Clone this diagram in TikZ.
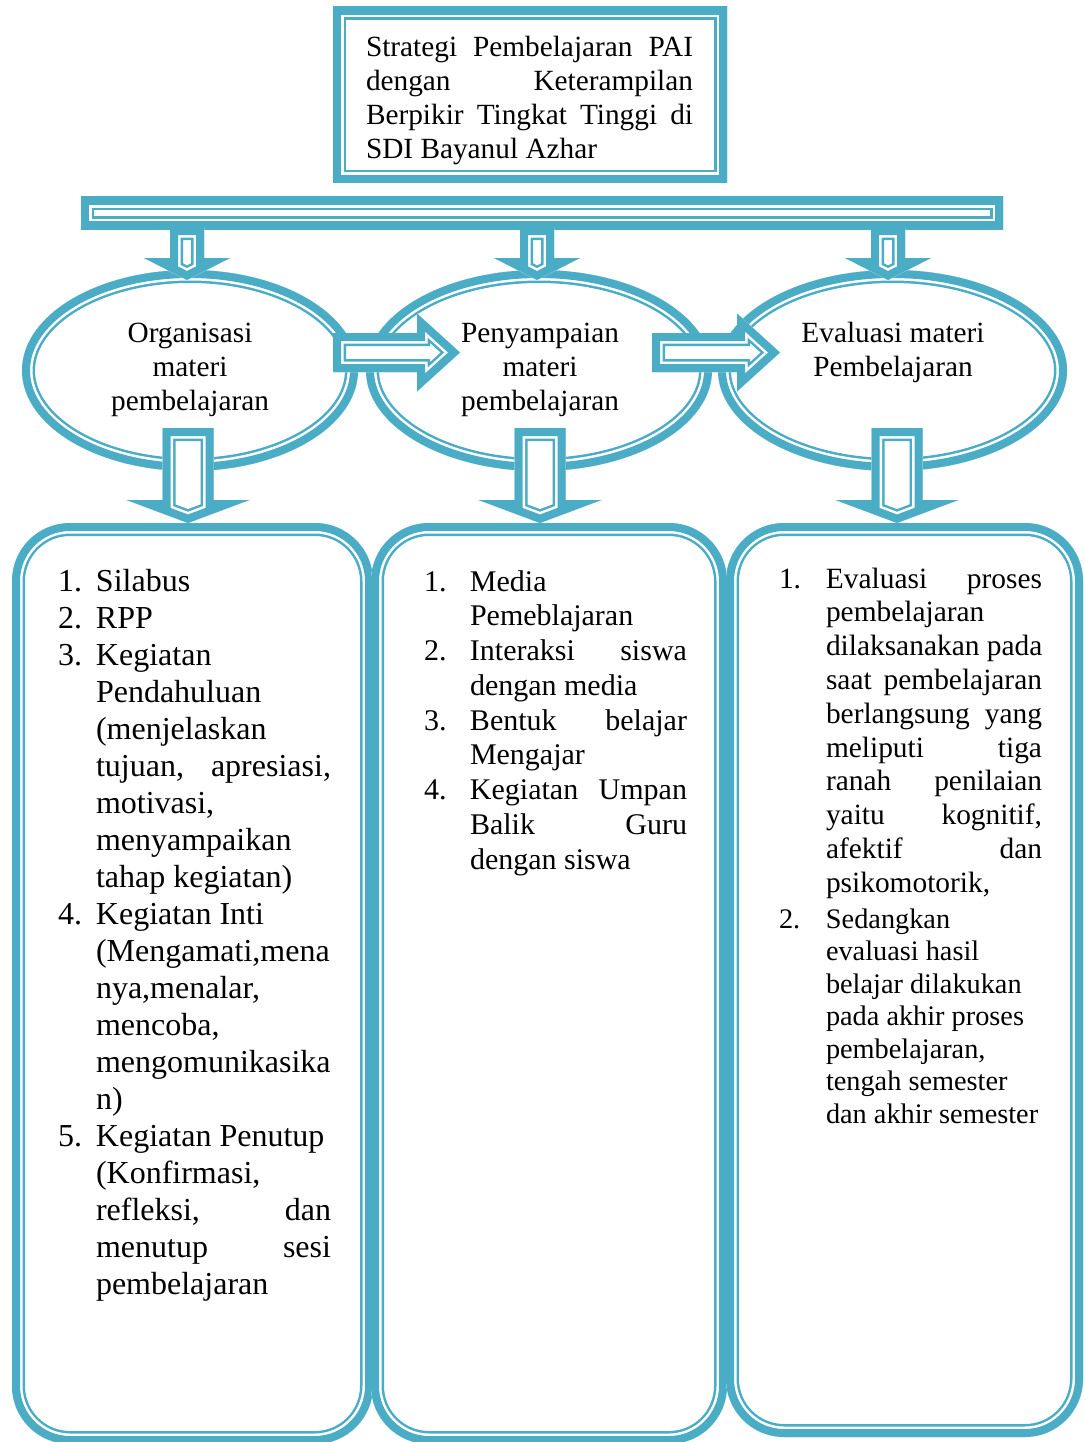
\documentclass[tikz,border=0pt]{standalone}
\usepackage{fontspec}
\setmainfont{Liberation Serif}
\definecolor{acc}{RGB}{75,172,198}
\newlength\numw
\newlength\txtw
\newcommand\Lrow[2]{\hbox{\hbox to\numw{#1\hfil}#2}}
\newcommand\Jrow[2]{\hbox{\hbox to\numw{#1\hfil}\hbox to\txtw{\spaceskip=.25em plus 1fil\relax #2}}}
\newcommand\Jline[1]{\hbox to\txtw{\spaceskip=.25em plus 1fil\relax #1}}
\newcommand\Nline[1]{\hbox{#1}}
\newcommand\Cline[1]{\hbox to\txtw{\hfil #1\hfil}}
\newcommand\ttshape[1]{\begin{scope}\fill[white] #1; \clip #1; \draw[bandA] #1; \draw[bandB] #1; \draw[bandC] #1; \end{scope}}
% down arrow: #1 cx, #2 shaft top, #3 head start, #4 tip, #5 shaft half width, #6 head half width
\newcommand\dnarrow[6]{\ttshape{(#1-#5,#2) -- (#1+#5,#2) -- (#1+#5,#3) -- (#1+#6,#3) -- (#1,#4) -- (#1-#6,#3) -- (#1-#5,#3) -- cycle}}
% right arrow: #1 cy, #2 shaft left, #3 head start, #4 tip, #5 shaft half height, #6 head half height
\newcommand\rtarrow[6]{\ttshape{(#2,#1-#5) -- (#3,#1-#5) -- (#3,#1-#6) -- (#4,#1) -- (#3,#1+#6) -- (#3,#1+#5) -- (#2,#1+#5) -- cycle}}
\begin{document}
\begin{tikzpicture}[x=1pt,y=-1pt,line join=miter,
  bandA/.style={draw=acc,line width=26pt},
  bandB/.style={draw=white,line width=21pt},
  bandC/.style={draw=acc,line width=16pt},
  txt/.style={inner sep=0pt,outer sep=0pt}]
\useasboundingbox (0,0) rectangle (1084,1442);
\fill[white] (0,0) rectangle (1084,1442);
% title box and bar
\ttshape{(333,7) rectangle (727,183)}
\ttshape{(81,197) rectangle (1003,229)}
% ellipses
\coordinate (e1) at (190,370.5);
\coordinate (e2) at (539,370.5);
\coordinate (e3) at (892.5,370.5);
\ttshape{(e1) ellipse [x radius=168pt, y radius=100.5pt]}
\ttshape{(e2) ellipse [x radius=173pt, y radius=100.5pt]}
\ttshape{(e3) ellipse [x radius=174.5pt, y radius=100.5pt]}
% arrows from bar
\dnarrow{187}{227}{258}{280}{17}{43}
\dnarrow{537}{227}{258}{280}{17}{43}
\dnarrow{888}{227}{258}{280}{17}{43}
% arrows between ellipses
\rtarrow{352.5}{333}{417}{460}{19.5}{39}
\rtarrow{352.5}{652}{737}{780}{19.5}{39}
% lower boxes
\ttshape{[rounded corners=58pt] (12,523) rectangle (373,1444)}
\ttshape{[rounded corners=58pt] (371,523) rectangle (727,1444)}
\ttshape{[rounded corners=58pt] (726,523) rectangle (1083,1437)}
% arrows to boxes
\dnarrow{188}{428}{500}{523}{25.5}{61.5}
\dnarrow{540}{428}{500}{523}{25.5}{61.5}
\dnarrow{897}{428}{500}{523}{25.5}{61.5}
% texts
\node[txt,anchor=base west] (title) at (366,57) {\vtop{\fontsize{29.3}{34}\selectfont\frenchspacing\txtw=327pt
  \Jline{Strategi Pembelajaran PAI}
  \Jline{dengan Keterampilan}
  \Jline{Berpikir Tingkat Tinggi di}
  \Nline{SDI Bayanul Azhar}}};
\node[txt,anchor=base] (org) at (190,342) {\vtop{\fontsize{29.3}{34}\selectfont\txtw=280pt
  \Cline{Organisasi}\Cline{materi}\Cline{pembelajaran}}};
\node[txt,anchor=base] (pen) at (540,342) {\vtop{\fontsize{29.3}{34}\selectfont\txtw=280pt
  \Cline{Penyampaian}\Cline{materi}\Cline{pembelajaran}}};
\node[txt,anchor=base] (eva) at (893,342) {\vtop{\fontsize{29.3}{34}\selectfont\txtw=280pt
  \Cline{Evaluasi materi}\Cline{Pembelajaran}}};
\node[txt,anchor=base west] (listA) at (58,591) {\vtop{\fontsize{32}{37}\selectfont\frenchspacing\numw=38pt\txtw=235pt
  \Lrow{1.}{Silabus}
  \Lrow{2.}{RPP}
  \Lrow{3.}{Kegiatan}
  \Lrow{}{Pendahuluan}
  \Lrow{}{(menjelaskan}
  \Jrow{}{tujuan, apresiasi,}
  \Lrow{}{motivasi,}
  \Lrow{}{menyampaikan}
  \Lrow{}{tahap kegiatan)}
  \Lrow{4.}{Kegiatan Inti}
  \Lrow{}{(Mengamati,mena}
  \Lrow{}{nya,menalar,}
  \Lrow{}{mencoba,}
  \Lrow{}{mengomunikasika}
  \Lrow{}{n)}
  \Lrow{5.}{Kegiatan Penutup}
  \Lrow{}{(Konfirmasi,}
  \Jrow{}{refleksi, dan}
  \Jrow{}{menutup sesi}
  \Lrow{}{pembelajaran}}};
\node[txt,anchor=base west] (listB) at (424,591) {\vtop{\fontsize{30}{34.75}\selectfont\frenchspacing\numw=46pt\txtw=217pt
  \Lrow{1.}{Media}
  \Lrow{}{Pemeblajaran}
  \Jrow{2.}{Interaksi siswa}
  \Lrow{}{dengan media}
  \Jrow{3.}{Bentuk belajar}
  \Lrow{}{Mengajar}
  \Jrow{4.}{Kegiatan Umpan}
  \Jrow{}{Balik Guru}
  \Lrow{}{dengan siswa}}};
\node[txt,anchor=base west] (listC) at (779,588) {\vtop{\fontsize{29.4}{33.8}\selectfont\frenchspacing\numw=47pt\txtw=216pt
  \Jrow{1.}{Evaluasi proses}
  \Lrow{}{pembelajaran}
  \Jrow{}{dilaksanakan pada}
  \Jrow{}{saat pembelajaran}
  \Jrow{}{berlangsung yang}
  \Jrow{}{meliputi tiga}
  \Jrow{}{ranah penilaian}
  \Jrow{}{yaitu kognitif,}
  \Jrow{}{afektif dan}
  \Lrow{}{psikomotorik,}}};
\node[txt,anchor=base west] (listD) at (779,928) {\vtop{\fontsize{28.3}{32.5}\selectfont\frenchspacing\numw=47pt\txtw=216pt
  \Lrow{2.}{Sedangkan}
  \Lrow{}{evaluasi hasil}
  \Lrow{}{belajar dilakukan}
  \Lrow{}{pada akhir proses}
  \Lrow{}{pembelajaran,}
  \Lrow{}{tengah semester}
  \Lrow{}{dan akhir semester}}};
\end{tikzpicture}
\end{document}
